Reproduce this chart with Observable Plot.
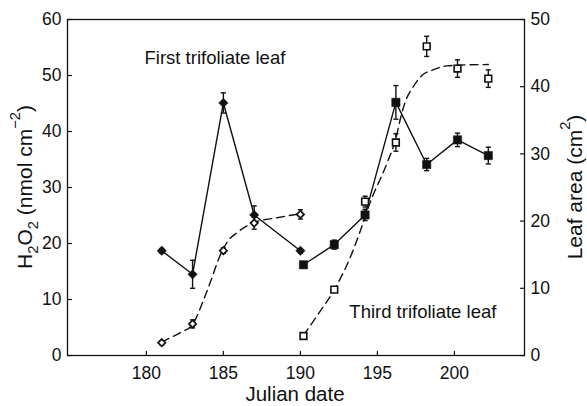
<!DOCTYPE html>
<html>
<head>
<meta charset="utf-8">
<script src="https://cdn.jsdelivr.net/npm/d3@7"></script>
<script src="https://cdn.jsdelivr.net/npm/@observablehq/plot@0.6"></script>
<style>
  body { margin: 0; background: #fff; }
  #chart svg { display: block; }
</style>
</head>
<body>
<div id="chart"></div>
<script>
// First trifoliate leaf: H2O2 content (left axis) and leaf area (right axis)
const firstDates = [181, 183, 185, 187, 190];
const firstH2O2 = [18.7, 14.5, 45.1, 25.1, 18.7];
const firstH2O2Err = [0.4, 2.5, 1.8, 1.6, 0.4];
const firstArea = [1.9, 4.7, 15.6, 19.7, 21.0];
const firstAreaErr = [0.3, 0.6, 0.4, 0.9, 0.7];

// Third trifoliate leaf
const thirdDates = [190.2, 192.2, 194.2, 196.2, 198.2, 200.2, 202.2];
const thirdH2O2 = [16.2, 19.8, 25.1, 45.2, 34.1, 38.5, 35.7];
const thirdH2O2Err = [0.4, 0.8, 1.0, 3.0, 1.1, 1.2, 1.5];
const thirdArea = [2.9, 9.8, 22.9, 31.7, 46.0, 42.7, 41.2];
const thirdAreaErr = [0.3, 0.4, 0.8, 1.3, 1.5, 1.3, 1.3];

// Fitted leaf-expansion curves (dashed)
const firstFitDates = [181.0, 181.6, 182.3, 183.0, 183.7, 184.2, 184.7, 185.25, 185.9, 187.0, 188.5, 190.0];
const firstFitArea  = [2.0,   2.7,   3.5,   4.6,   8.2,   11.2,  14.4,  16.9,   18.3,  19.8,  20.5,  21.1];
const thirdFitDates = [190.2, 191.2, 192.2, 193.2, 193.9, 194.5, 195.6, 196.2, 196.5, 196.8, 197.3, 197.9, 198.6, 199.5, 200.2, 202.2];
const thirdFitArea  = [3.0,   6.3,   9.8,   14.4,  18.6,  22.6,  28.5,  32.3,  35.3,  37.7,  39.9,  41.7,  42.5,  43.1,  43.2,  43.3];

// Axis ticks
const dateTicks = [180, 185, 190, 195, 200];
const h2o2Ticks = [0, 10, 20, 30, 40, 50, 60];
const areaTicks = [0, 10, 20, 30, 40, 50];

// In-plot annotations
const noteLabels = ["First trifoliate leaf", "Third trifoliate leaf"];
const noteDates = [184.45, 197.95];
const noteH2O2 = [53.2, 7.7];

// leaf area (0–50) shares the H2O2 (0–60) vertical scale
const AREA_TO_Y = 60 / 50;

const zip = (xs, ys, es) => xs.map((x, i) => ({x, y: ys[i], e: es ? es[i] : 0}));
const firstH = zip(firstDates, firstH2O2, firstH2O2Err);
const firstA = zip(firstDates, firstArea, firstAreaErr).map(d => ({...d, y: d.y * AREA_TO_Y, e: d.e * AREA_TO_Y}));
const thirdH = zip(thirdDates, thirdH2O2, thirdH2O2Err);
const thirdA = zip(thirdDates, thirdArea, thirdAreaErr).map(d => ({...d, y: d.y * AREA_TO_Y, e: d.e * AREA_TO_Y}));
const firstFit = zip(firstFitDates, firstFitArea).map(d => ({...d, y: d.y * AREA_TO_Y}));
const thirdFit = zip(thirdFitDates, thirdFitArea).map(d => ({...d, y: d.y * AREA_TO_Y}));
const notes = noteLabels.map((t, i) => ({t, x: noteDates[i], y: noteH2O2[i]}));

// horizontal cap for error bars
const capSymbol = {
  draw(context, size) {
    const w = Math.sqrt(size) / 2;
    context.moveTo(-w, 0);
    context.lineTo(w, 0);
  }
};

const errorMarks = (data) => [
  Plot.ruleX(data, {x: "x", y1: d => d.y - d.e, y2: d => d.y + d.e, stroke: "#111", strokeWidth: 1.4}),
  Plot.dot(data, {x: "x", y: d => d.y + d.e, symbol: capSymbol, r: 2.9, fill: "none", stroke: "#111", strokeWidth: 1.4}),
  Plot.dot(data, {x: "x", y: d => d.y - d.e, symbol: capSymbol, r: 2.9, fill: "none", stroke: "#111", strokeWidth: 1.4})
];

const chart = Plot.plot({
  width: 587,
  height: 406,
  marginLeft: 67,
  marginRight: 63,
  marginTop: 19,
  marginBottom: 51,
  style: {fontFamily: "'Liberation Sans', Arial, sans-serif", fontSize: "17.5px", color: "#111", background: "#fff"},
  x: {domain: [174.88, 204.55]},
  y: {domain: [0, 60]},
  marks: [
    Plot.frame({stroke: "#111", strokeWidth: 1.3}),
    Plot.axisX(dateTicks, {anchor: "bottom", tickSize: -4, tickPadding: 15, label: null, strokeWidth: 1.2}),
    Plot.axisY(h2o2Ticks, {anchor: "left", tickSize: -5, tickPadding: 11, label: null, strokeWidth: 1.2}),
    Plot.axisY(areaTicks.map(v => v * AREA_TO_Y), {anchor: "right", tickSize: -5, tickPadding: 11, label: null, strokeWidth: 1.2,
      tickFormat: v => String(Math.round(v / AREA_TO_Y))}),

    // fitted leaf area curves
    Plot.line(firstFit, {x: "x", y: "y", curve: "monotone-x", stroke: "#111", strokeWidth: 1.4, strokeDasharray: "8,5"}),
    Plot.line(thirdFit, {x: "x", y: "y", curve: "monotone-x", stroke: "#111", strokeWidth: 1.4, strokeDasharray: "8,5"}),

    // H2O2 time courses
    Plot.line(firstH, {x: "x", y: "y", stroke: "#111", strokeWidth: 1.4}),
    Plot.line(thirdH, {x: "x", y: "y", stroke: "#111", strokeWidth: 1.4}),

    ...errorMarks(firstH),
    ...errorMarks(firstA),
    ...errorMarks(thirdH),
    ...errorMarks(thirdA),

    Plot.dot(firstA, {x: "x", y: "y", symbol: "diamond2", r: 3.3, fill: "#fff", stroke: "#111", strokeWidth: 1.7}),
    Plot.dot(firstH, {x: "x", y: "y", symbol: "diamond2", r: 4.2, fill: "#111", stroke: "#111", strokeWidth: 0.5}),
    Plot.dot(thirdA, {x: "x", y: "y", symbol: "square", r: 3.8, fill: "#fff", stroke: "#111", strokeWidth: 1.6}),
    Plot.dot(thirdH, {x: "x", y: "y", symbol: "square", r: 4.7, fill: "#111", stroke: "#111", strokeWidth: 0.5}),

    Plot.text(notes, {x: "x", y: "y", text: "t", fontSize: 18.5, fill: "#111"})
  ]
});

// axis titles with sub/superscripts
const svg = d3.select(chart);
function addTitle(runs, x, y, rotate, size) {
  const t = svg.append("text")
    .attr("transform", `translate(${x},${y}) rotate(${rotate})`)
    .attr("text-anchor", "middle")
    .attr("fill", "#111")
    .style("font-size", `${size}px`);
  let shift = 0;
  for (const r of runs) {
    const target = r.sub ? 0.3 : r.sup ? -0.55 : 0;
    const ts = t.append("tspan").text(r.t);
    if (target !== shift) ts.attr("dy", `${(target - shift) * (r.sub || r.sup ? 1 / 0.7 : 1)}em`);
    if (r.sub || r.sup) ts.style("font-size", "0.7em");
    shift = target;
  }
  return t;
}
addTitle([{t: "H"}, {t: "2", sub: true}, {t: "O"}, {t: "2", sub: true}, {t: " (nmol cm"}, {t: "\u22122", sup: true}, {t: ")"}], 32, 187, -90, 21);
addTitle([{t: "Leaf area (cm"}, {t: "2", sup: true}, {t: ")"}], 582, 187, -90, 21);
addTitle([{t: "Julian date"}], 295, 401, 0, 20.5);

document.getElementById("chart").append(chart);
</script>
</body>
</html>
